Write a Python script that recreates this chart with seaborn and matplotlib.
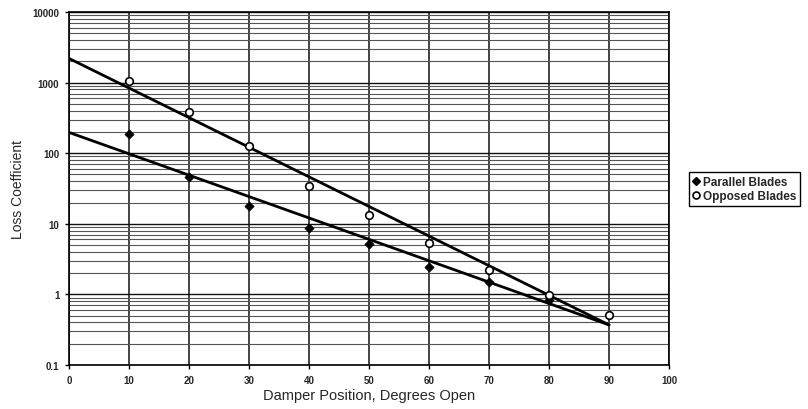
import numpy as np
import pandas as pd
import matplotlib
matplotlib.use("Agg")
import matplotlib.pyplot as plt
import seaborn as sns
from matplotlib.ticker import FixedLocator, FixedFormatter, LogLocator, NullFormatter
from matplotlib.lines import Line2D

# ---- data ----
parallel_x = [10, 20, 30, 40, 50, 60, 70, 80]
parallel_y = [190, 46, 17.7, 8.8, 5.1, 2.45, 1.5, 0.82]
opposed_x = [10, 20, 30, 40, 50, 60, 70, 80, 90]
opposed_y = [1060, 380, 125, 34, 13.2, 5.4, 2.25, 0.99, 0.51]
trend_x = [0, 90]
parallel_trend = [197, 0.37]
opposed_trend = [2200, 0.37]
x_ticks = [0, 10, 20, 30, 40, 50, 60, 70, 80, 90, 100]
y_ticks = [0.1, 1, 10, 100, 1000, 10000]
y_tick_labels = ["0.1", "1", "10", "100", "1000", "10000"]
series_names = ["Parallel Blades", "Opposed Blades"]

sns.set_theme(style="white")
plt.rcParams["font.family"] = ["Liberation Sans", "DejaVu Sans"]

fig, ax = plt.subplots(figsize=(8.08, 4.10), dpi=100)
fig.subplots_adjust(left=69/808, right=669/808, top=1-13/410, bottom=1-366/410)

ax.set_yscale("log")
ax.set_xlim(0, 100)
ax.set_ylim(0.1, 10000)

# grid
ax.xaxis.set_major_locator(FixedLocator(x_ticks))
ax.yaxis.set_major_locator(FixedLocator(y_ticks))
ax.yaxis.set_major_formatter(FixedFormatter(y_tick_labels))
ax.yaxis.set_minor_locator(LogLocator(base=10, subs=np.arange(2, 10)))
ax.yaxis.set_minor_formatter(NullFormatter())
ax.grid(True, which="major", axis="x", color="#111111", linewidth=1.1)
ax.grid(True, which="major", axis="y", color="#111111", linewidth=1.0)
ax.grid(True, which="minor", axis="y", color="#555555", linewidth=0.8)
ax.set_axisbelow(True)

# trend lines
tdf = pd.DataFrame({"x": trend_x * 2,
                    "y": parallel_trend + opposed_trend,
                    "s": [series_names[0]] * 2 + [series_names[1]] * 2})
sns.lineplot(data=tdf, x="x", y="y", units="s", estimator=None, color="black",
             linewidth=2.0, ax=ax, legend=False, zorder=3)

# points
pdf = pd.DataFrame({"x": parallel_x, "y": parallel_y})
odf = pd.DataFrame({"x": opposed_x, "y": opposed_y})
sns.scatterplot(data=pdf, x="x", y="y", marker="D", s=22, color="black",
                edgecolor="black", linewidth=0.5, ax=ax, zorder=4, legend=False)
sns.scatterplot(data=odf, x="x", y="y", marker="o", s=30, facecolor="white",
                edgecolor="black", linewidth=1.2, ax=ax, zorder=5, legend=False)

for s in ax.spines.values():
    s.set_color("black")
    s.set_linewidth(1.2)

ax.tick_params(axis="both", which="major", length=3, width=1, color="black",
               labelsize=7, pad=4, direction="out", bottom=True, left=True)
ax.tick_params(axis="y", which="minor", length=0)
for lab in ax.get_xticklabels() + ax.get_yticklabels():
    lab.set_fontweight("bold")

ax.set_xlabel("Damper Position, Degrees Open", fontsize=10.5, va="top")
ax.xaxis.set_label_coords(0.5, (366 - 389) / 353)
ax.set_ylabel("Loss Coefficient", fontsize=10, va="center")
ax.yaxis.set_label_coords((18 - 69) / 600, 0.5)

handles = [
    Line2D([], [], marker="D", linestyle="none", color="black", markersize=4.5),
    Line2D([], [], marker="o", linestyle="none", markerfacecolor="white",
           markeredgecolor="black", markeredgewidth=1.2, markersize=5),
]
leg = fig.legend(handles, series_names, loc="center left",
                 bbox_to_anchor=(689/808, 1-190/410), frameon=True,
                 fancybox=False, edgecolor="black", framealpha=1,
                 prop={"size": 8.5, "weight": "bold"},
                 handlelength=0.6, handletextpad=0.3, borderpad=0.3,
                 labelspacing=0.2, borderaxespad=0)
leg.get_frame().set_linewidth(1.0)

fig.savefig("out.png", dpi=100)
